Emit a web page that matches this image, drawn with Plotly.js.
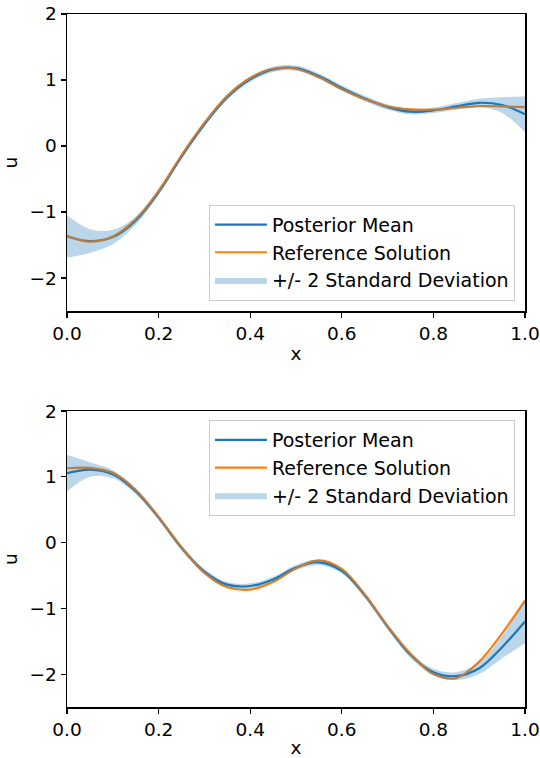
<!DOCTYPE html>
<html>
<head>
<meta charset="utf-8">
<script src="https://cdn.plot.ly/plotly-3.0.1.min.js"></script>
<style>html,body{margin:0;padding:0;background:#fff;}#plot{width:540px;height:758px;}</style>
</head>
<body>
<div id="plot"></div>
<script>
// Shared grid
const xs = [0,0.05,0.1,0.15,0.2,0.25,0.3,0.35,0.4,0.45,0.5,0.55,0.6,0.65,0.7,0.75,0.8,0.85,0.9,0.95,1.0];

// Top panel
const meanTop = [-1.37,-1.44,-1.38,-1.13,-0.70,-0.16,0.33,0.74,1.01,1.16,1.18,1.06,0.88,0.72,0.59,0.52,0.54,0.60,0.655,0.62,0.48];
const refTop  = [-1.36,-1.45,-1.37,-1.11,-0.68,-0.14,0.35,0.76,1.03,1.17,1.17,1.04,0.86,0.71,0.60,0.555,0.55,0.58,0.605,0.60,0.59];
const bandTop = [0.32,0.18,0.11,0.06,0.045,0.04,0.04,0.04,0.04,0.04,0.04,0.04,0.04,0.04,0.04,0.04,0.04,0.05,0.06,0.12,0.27];

// Bottom panel
const meanBot = [1.055,1.11,1.04,0.78,0.38,-0.08,-0.44,-0.64,-0.66,-0.56,-0.38,-0.30,-0.43,-0.80,-1.28,-1.71,-1.97,-2.03,-1.91,-1.59,-1.20];
const refBot  = [1.13,1.135,1.06,0.80,0.39,-0.07,-0.46,-0.68,-0.715,-0.60,-0.39,-0.27,-0.40,-0.79,-1.27,-1.69,-2.00,-2.06,-1.81,-1.38,-0.88];
const bandBot = [0.28,0.11,0.06,0.045,0.04,0.04,0.04,0.04,0.04,0.04,0.04,0.04,0.04,0.04,0.04,0.04,0.05,0.06,0.09,0.17,0.33];

const yTicks = [-2,-1,0,1,2];
const xTicks = [0,0.2,0.4,0.6,0.8,1.0];
const names = ["Posterior Mean","Reference Solution","+/- 2 Standard Deviation"];

const BLUE = "#1f77b4", ORANGE = "#ff7f0e", FILL = "rgba(31,119,180,0.3)";

function panel(mean, ref, band, xa, ya, leg) {
  const up = mean.map((m,i)=>m+band[i]);
  const lo = mean.map((m,i)=>m-band[i]);
  return [
    {x:xs,y:mean,xaxis:xa,yaxis:ya,mode:"lines",line:{color:BLUE,width:2.2,shape:"spline"},name:names[0],legend:leg},
    {x:xs,y:ref,xaxis:xa,yaxis:ya,mode:"lines",line:{color:ORANGE,width:2.2,shape:"spline"},name:names[1],legend:leg},
    {x:xs,y:up,xaxis:xa,yaxis:ya,mode:"lines",line:{width:0,shape:"spline"},showlegend:false,hoverinfo:"skip",legend:leg},
    {x:xs,y:lo,xaxis:xa,yaxis:ya,mode:"lines",line:{width:0,shape:"spline"},fill:"tonexty",fillcolor:FILL,name:names[2],legend:leg}
  ];
}

const data = [].concat(
  panel(meanTop, refTop, bandTop, "x", "y", "legend"),
  panel(meanBot, refBot, bandBot, "x2", "y2", "legend2")
);

const FONT = {family:"DejaVu Sans", size:18.5, color:"#000"};
const LFONT = {family:"DejaVu Sans", size:19, color:"#000"};
const axBase = {showline:true, mirror:true, linecolor:"#000", linewidth:1.5, ticks:"outside", ticklen:5, tickwidth:1.2, tickcolor:"#000", showgrid:false, zeroline:false, tickfont:FONT};

const legBase = {bgcolor:"rgba(255,255,255,0.8)", bordercolor:"#cccccc", borderwidth:1, font:LFONT, itemwidth:52, xanchor:"right", traceorder:"normal"};

const layout = {
  width:540, height:758,
  margin:{l:67, r:15, t:14, b:51},
  paper_bgcolor:"#fff", plot_bgcolor:"#fff",
  font:FONT,
  xaxis: Object.assign({}, axBase, {range:[0,1], tickvals:xTicks, tickformat:".1f", anchor:"y", domain:[0,1], title:{text:"x", font:FONT, standoff:4}}),
  yaxis: Object.assign({}, axBase, {range:[-2.5,2], tickvals:yTicks, anchor:"x", domain:[0.5714,1], title:{text:"u", font:FONT, standoff:10}}),
  xaxis2: Object.assign({}, axBase, {range:[0,1], tickvals:xTicks, tickformat:".1f", anchor:"y2", domain:[0,1], title:{text:"x", font:FONT, standoff:4}}),
  yaxis2: Object.assign({}, axBase, {range:[-2.5,2], tickvals:yTicks, anchor:"x2", domain:[0,0.4271], title:{text:"u", font:FONT, standoff:10}}),
  legend: Object.assign({}, legBase, {x:0.978, y:0.5863, yanchor:"bottom"}),
  legend2: Object.assign({}, legBase, {x:0.978, y:0.4141, yanchor:"top"}),
  showlegend:true
};

Plotly.newPlot("plot", data, layout, {displayModeBar:false, staticPlot:true});
</script>
</body>
</html>
